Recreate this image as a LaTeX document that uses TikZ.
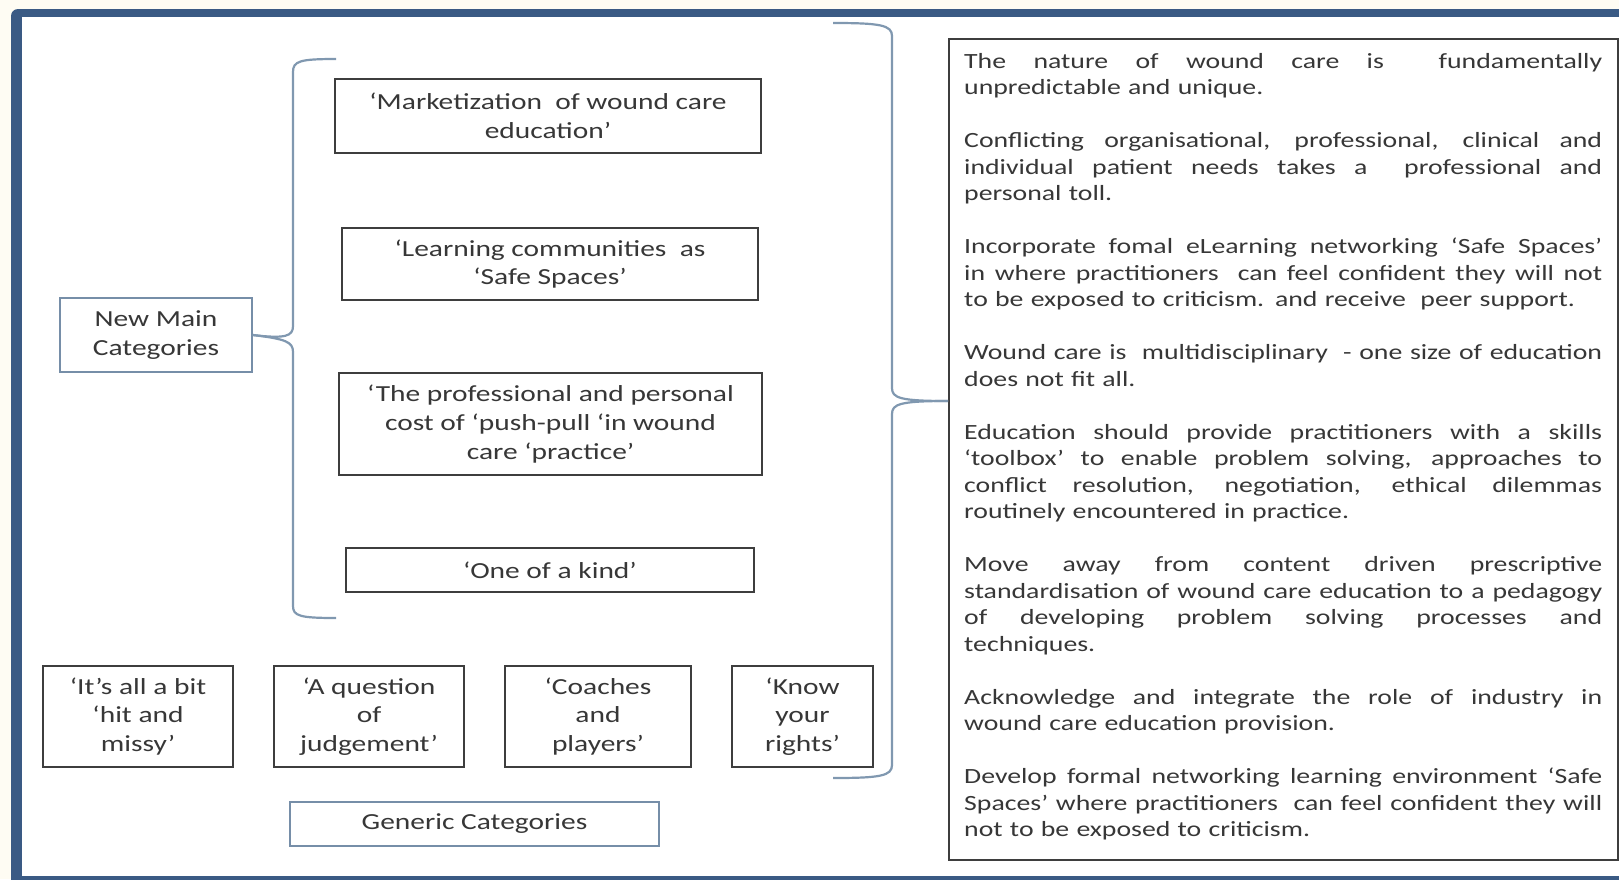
\documentclass[tikz,border=0pt]{standalone}
\usepackage{fontspec}
\setmainfont[FakeStretch=1.28]{Carlito}
\definecolor{cream}{RGB}{254,252,243}
\definecolor{frameblue}{RGB}{58,90,132}
\definecolor{boxgray}{RGB}{62,62,62}
\definecolor{txtgray}{RGB}{55,55,55}
\definecolor{steel}{RGB}{118,142,168}
\definecolor{bracecol}{RGB}{128,152,176}
% one justified line of the findings column
\newcommand\jl[1]{\leavevmode\hbox to 638pt{\spaceskip=.22em plus 1fil minus .04em\relax #1}}
\begin{document}
\begin{tikzpicture}[x=1pt,y=-1pt,
  cat/.style={draw=boxgray, line width=1.8pt, align=center, inner sep=0pt,
    text=txtgray, font=\fontsize{23}{28.6}\selectfont},
  head/.style={draw=steel, line width=1.5pt, align=center, inner sep=0pt,
    text=txtgray, font=\fontsize{23}{28.6}\selectfont},
  bracepath/.style={draw=bracecol, line width=2.2pt},
]
\useasboundingbox (0,0) rectangle (1619,879);
\fill[cream] (0,0) rectangle (1619,879);
% outer frame
\fill[frameblue, rounded corners=7pt] (11,9) rectangle (1660,900);
\fill[white] (22,17) rectangle (1640,876);

% new main categories
\node[head, minimum width=192pt, minimum height=74pt] (nm) at (156,335) {New Main\\Categories};
\node[cat, minimum width=426pt, minimum height=74pt] (c1) at (548,116) {‘Marketization~ of wound care\\education’};
\node[cat, minimum width=416pt, minimum height=72pt] (c2) at (550,264) {‘Learning communities~ as\\‘Safe Spaces’};
\node[cat, minimum width=423pt, minimum height=102pt] (c3) at (550.5,424) {‘The professional and personal\\cost of ‘push-pull ‘in wound\\care ‘practice’};
\node[cat, minimum width=408pt, minimum height=44pt] (c4) at (550,570) {‘One of a kind’};

% generic categories
\node[cat, minimum width=190pt, minimum height=101pt] (g1) at (138,716.5) {‘It’s all a bit\\‘hit and\\missy’};
\node[cat, minimum width=190pt, minimum height=101pt] (g2) at (369,716.5) {‘A question\\of\\judgement’};
\node[cat, minimum width=186pt, minimum height=101pt] (g3) at (598,716.5) {‘Coaches\\and\\players’};
\node[cat, minimum width=141pt, minimum height=101pt] (g4) at (802.5,716.5) {‘Know\\your\\rights’};
\node[head, minimum width=369pt, minimum height=44pt] (gc) at (474.5,824) {Generic Categories};

% findings column
\node[draw=boxgray, line width=2pt, minimum width=669pt, minimum height=821pt,
  anchor=north west, inner sep=0pt] (tb) at (948,38) {};
\node[anchor=base west, inner sep=0pt, text width=638pt, align=left, text=txtgray,
  font=\fontsize{21.7}{26.5}\selectfont] (txt) at (964,68) {%
\jl{The nature of wound care is \ fundamentally}\\
unpredictable and unique.\\[26.5pt]
\jl{Conflicting organisational, professional, clinical and}\\
\jl{individual patient needs takes a \ professional and}\\
personal toll.\\[26.5pt]
\jl{Incorporate fomal eLearning networking ‘Safe Spaces’}\\
\jl{in where practitioners \ can feel confident they will not}\\
to be exposed to criticism. and receive \ peer support.\\[26.5pt]
\jl{Wound care is \ multidisciplinary \ - one size of education}\\
does not fit all.\\[26.5pt]
\jl{Education should provide practitioners with a skills}\\
\jl{‘toolbox’ to enable problem solving, approaches to}\\
\jl{conflict resolution, negotiation, ethical dilemmas}\\
routinely encountered in practice.\\[26.5pt]
\jl{Move away from content driven prescriptive}\\
\jl{standardisation of wound care education to a pedagogy}\\
\jl{of developing problem solving processes and}\\
techniques.\\[26.5pt]
\jl{Acknowledge and integrate the role of industry in}\\
wound care education provision.\\[26.5pt]
\jl{Develop formal networking learning environment ‘Safe}\\
\jl{Spaces’ where practitioners \ can feel confident they will}\\
not to be exposed to criticism.};

% brace grouping the main categories
\coordinate (lbtop) at (336,59);
\coordinate (lbbot) at (336,618);
\draw[bracepath] (lbtop) .. controls (300,59) and (293,61) .. (293,72)
  -- (293,326) .. controls (293,336) and (286,339) .. (nm.east);
\draw[bracepath] (nm.east) .. controls (286,339) and (293,342) .. (293,352)
  -- (293,606) .. controls (293,616) and (300,618) .. (lbbot);

% brace linking all categories to the findings
\coordinate (rbtop) at (833,23);
\coordinate (rbbot) at (833,778);
\coordinate (rtip) at (tb.west |- 0,401);
\draw[bracepath] (rbtop) .. controls (880,23) and (892,25) .. (892,36)
  -- (892,388) .. controls (892,398) and (900,401) .. (rtip);
\draw[bracepath] (rtip) .. controls (900,401) and (892,404) .. (892,414)
  -- (892,765) .. controls (892,776) and (880,778) .. (rbbot);
\end{tikzpicture}
\end{document}
